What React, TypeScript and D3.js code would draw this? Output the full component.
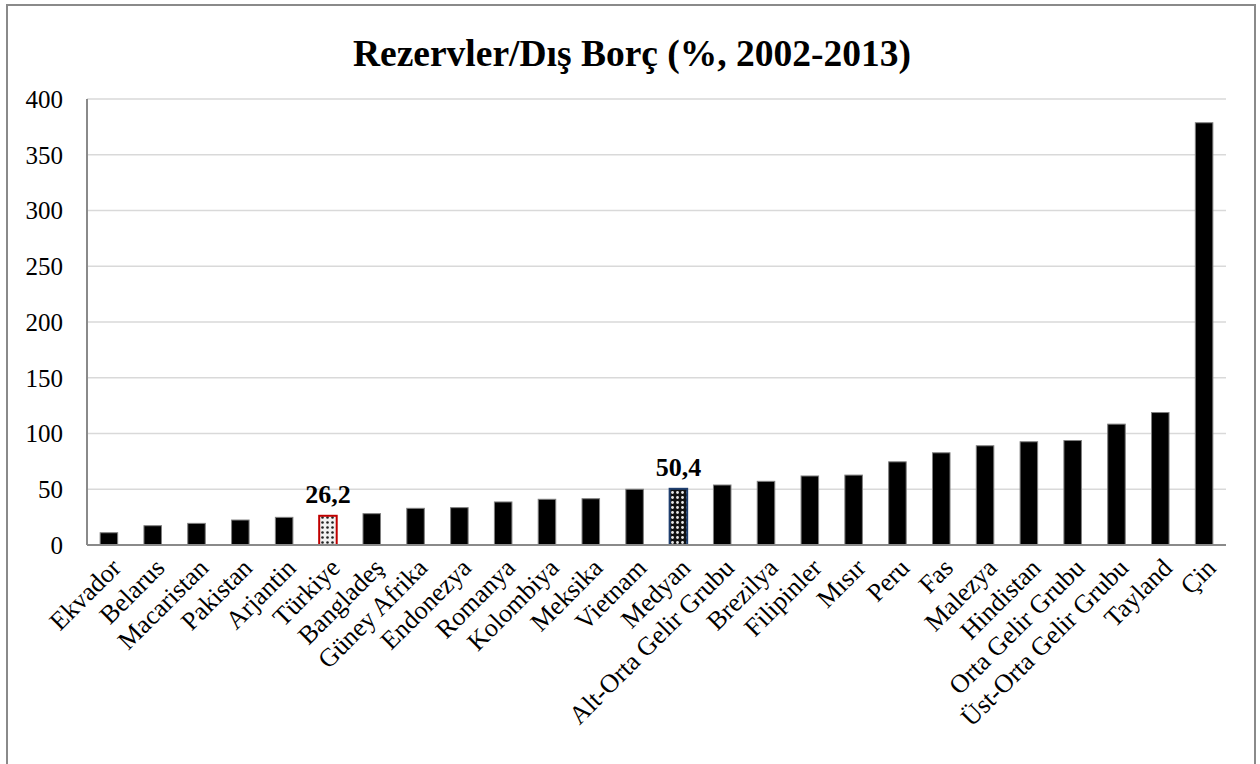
import React, { useEffect } from "react";
import * as d3 from "d3";

const categories = [
  "Ekvador", "Belarus", "Macaristan", "Pakistan", "Arjantin", "Türkiye", "Bangladeş",
  "Güney Afrika", "Endonezya", "Romanya", "Kolombiya", "Meksika", "Vietnam", "Medyan",
  "Alt-Orta Gelir Grubu", "Brezilya", "Filipinler", "Mısır", "Peru", "Fas", "Malezya",
  "Hindistan", "Orta Gelir Grubu", "Üst-Orta Gelir Grubu", "Tayland", "Çin",
];
const values = [
  11.0, 17.3, 19.4, 22.4, 24.8, 26.2, 28.1, 32.9, 33.5, 38.6, 41.0, 41.5, 50.0, 50.4,
  53.8, 57.1, 61.9, 62.7, 74.6, 82.7, 89.0, 92.6, 93.7, 108.4, 118.8, 378.7,
];
const yTicks = [0, 50, 100, 150, 200, 250, 300, 350, 400];
const highlighted = ["Türkiye", "Medyan"];
const labelTexts = ["26,2", "50,4"];
const title = "Rezervler/Dış Borç (%, 2002-2013)";

const W = 1260;
const H = 764;
const plot = { left: 87, right: 1226, top: 99, bottom: 545 };
const FONT = "'Liberation Serif', 'Times New Roman', serif";

export default function App() {
  useEffect(() => {
    document.body.style.margin = "0";
  }, []);

  const x = d3.scaleBand<string>().domain(categories).range([plot.left, plot.right]).paddingInner(0.6).paddingOuter(0.3);
  const y = d3.scaleLinear().domain([0, 400]).range([plot.bottom, plot.top]);
  const bw = x.bandwidth();

  return (
    <svg width={W} height={H} style={{ display: "block", background: "#fff" }}>
      <defs>
        <pattern id="dotsLight" width="5" height="5" patternUnits="userSpaceOnUse">
          <rect width="5" height="5" fill="#f2f2f2" />
          <circle cx="2.5" cy="2.5" r="1.3" fill="#222" />
        </pattern>
        <pattern id="dotsDark" width="5" height="5" patternUnits="userSpaceOnUse">
          <rect width="5" height="5" fill="#111" />
          <circle cx="2.5" cy="2.5" r="1.4" fill="#e8e8e8" />
        </pattern>
      </defs>
      <rect x={7} y={5} width={1248} height={H + 20} fill="#fff" stroke="#8a8a8a" strokeWidth={2} />
      <text x={632} y={66} textAnchor="middle" fontFamily={FONT} fontWeight="bold" fontSize={37.5} fill="#000">
        {title}
      </text>
      {yTicks.map((t) => (
        <g key={t}>
          {t > 0 && (
            <line x1={plot.left} x2={plot.right} y1={y(t)} y2={y(t)} stroke="#d9d9d9" strokeWidth={1.5} />
          )}
          <text x={63} y={y(t)} dy="0.35em" textAnchor="end" fontFamily={FONT} fontSize={25} fill="#000">
            {t}
          </text>
        </g>
      ))}
      {categories.map((c, i) => {
        const v = values[i];
        const hi = highlighted.indexOf(c);
        let fill = "#000";
        let stroke = "#7f7f7f";
        let sw = 1;
        if (hi === 0) {
          fill = "url(#dotsLight)";
          stroke = "#c00000";
          sw = 2;
        } else if (hi === 1) {
          fill = "url(#dotsDark)";
          stroke = "#1f3f6f";
          sw = 2;
        }
        const bx = x(c) as number;
        return (
          <g key={c}>
            <rect x={bx} y={y(v)} width={bw} height={y(0) - y(v)} fill={fill} stroke={stroke} strokeWidth={sw} />
            {hi >= 0 && (
              <text x={bx + bw / 2} y={y(v) - 13} textAnchor="middle" fontFamily={FONT} fontWeight="bold" fontSize={26} fill="#000">
                {labelTexts[hi]}
              </text>
            )}
          </g>
        );
      })}
      <line x1={plot.left} x2={plot.left} y1={plot.top} y2={plot.bottom} stroke="#8a8a8a" strokeWidth={2} />
      <line x1={plot.left} x2={plot.right} y1={plot.bottom} y2={plot.bottom} stroke="#8a8a8a" strokeWidth={2} />
      {categories.map((c) => {
        const cx = (x(c) as number) + bw / 2 + 7;
        const ty = 563;
        return (
          <text
            key={"l" + c}
            x={cx}
            y={ty}
            dy="0.35em"
            textAnchor="end"
            transform={`rotate(-45 ${cx} ${ty})`}
            fontFamily={FONT}
            fontSize={26}
            fill="#000"
          >
            {c}
          </text>
        );
      })}
    </svg>
  );
}
